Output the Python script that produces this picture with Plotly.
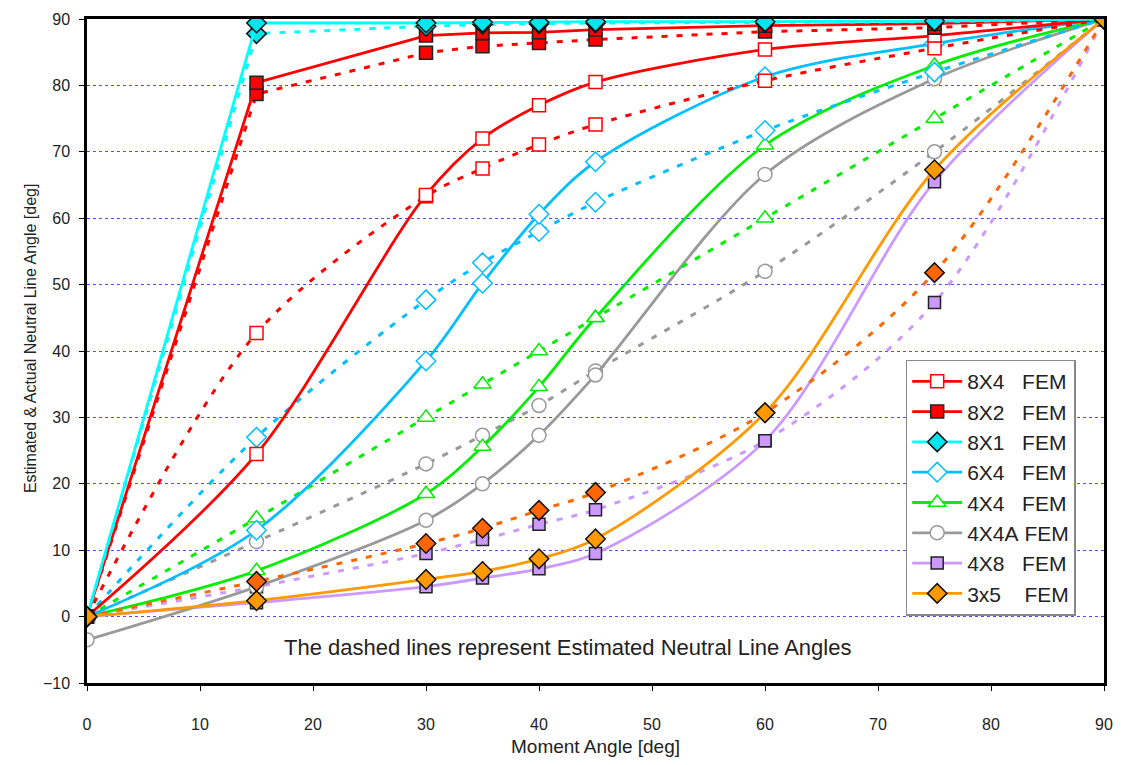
import plotly.graph_objects as go

x = [0, 15, 30, 35, 40, 45, 60, 75, 90]

# FEM (actual) values - solid lines
fem_8x4 = [0, 24.5, 63.5, 72.0, 77.0, 80.5, 85.4, 87.5, 90]
fem_8x2 = [0, 80.4, 87.5, 87.9, 88.0, 88.4, 89.0, 89.3, 90]
fem_8x1 = [0, 89.4, 89.4, 89.5, 89.5, 89.6, 89.6, 89.7, 90]
fem_6x4 = [0, 13.0, 38.5, 50.2, 60.6, 68.5, 81.3, 86.3, 90]
fem_4x4 = [0, 6.9, 18.5, 25.6, 34.6, 45.0, 71.0, 83.0, 90]
fem_4x4a = [-3.5, 4.5, 14.5, 20.0, 27.3, 36.4, 66.6, 81.0, 90]
fem_4x8 = [0, 2.1, 4.5, 5.8, 7.2, 9.5, 26.5, 65.5, 90]
fem_3x5 = [0, 2.4, 5.6, 6.8, 8.7, 11.7, 30.7, 67.3, 90]

# Estimated values - dashed lines
est_8x4 = [0, 42.7, 63.3, 67.5, 71.1, 74.1, 80.7, 85.6, 90]
est_8x2 = [0, 78.7, 84.9, 85.9, 86.4, 86.9, 88.1, 88.7, 90]
est_8x1 = [0, 87.8, 88.9, 89.2, 89.3, 89.4, 89.5, 89.6, 90]
est_6x4 = [0, 27.0, 47.7, 53.3, 58.0, 62.4, 73.2, 82.0, 90]
est_4x4 = [0, 14.8, 30.0, 35.0, 40.0, 45.0, 60.0, 75.0, 90]
est_4x4a = [0, 11.3, 23.0, 27.3, 31.8, 37.0, 52.0, 70.0, 90]
est_4x8 = [0, 4.5, 9.5, 11.6, 13.9, 16.1, 26.5, 47.3, 90]
est_3x5 = [0, 5.3, 11.0, 13.3, 16.0, 18.7, 30.7, 51.8, 90]

nb = "\u00a0"
names = ["8X4" + nb * 3 + "FEM", "8X2" + nb * 3 + "FEM", "8X1" + nb * 3 + "FEM",
         "6X4" + nb * 3 + "FEM", "4X4" + nb * 3 + "FEM", "4X4A" + nb + "FEM",
         "4X8" + nb * 3 + "FEM", "3x5" + nb * 4 + "FEM"]

series = [
    # name, fem, est, line color, est color, symbol, fill, fill_est, outline, size, shape, rank
    (names[6], fem_4x8, est_4x8, "#cc99ff", "#cc99ff", "square", "#cc99ff", "#cc99ff", "#222222", 12, "spline", 7),
    (names[5], fem_4x4a, est_4x4a, "#999999", "#999999", "circle", "white", "white", "#999999", 14, "spline", 6),
    (names[4], fem_4x4, est_4x4, "#00ee00", "#00ee00", "triangle-up", "white", "white", "#00ee00", 15, "spline", 5),
    (names[3], fem_6x4, est_6x4, "#00bfff", "#00bfff", "diamond", "white", "white", "#00bfff", 15, "spline", 4),
    (names[0], fem_8x4, est_8x4, "#ff0000", "#ff0000", "square", "white", "white", "#ff0000", 13, "spline", 1),
    (names[1], fem_8x2, est_8x2, "#ff0000", "#ff0000", "square", "#ff0000", "#ff0000", "#222222", 13, "linear", 2),
    (names[2], fem_8x1, est_8x1, "#00ffff", "#00ffff", "diamond", "#00e5ee", "#00e5ee", "#111111", 15, "linear", 3),
    (names[7], fem_3x5, est_3x5, "#ff9900", "#ff6600", "diamond", "#ff9900", "#ff6600", "#111111", 15, "spline", 8),
]

fig = go.Figure()

for name, fem, est, col, ecol, sym, fill, efill, outline, size, shape, rank in series:
    fig.add_trace(go.Scatter(
        x=x, y=est, mode="lines+markers", showlegend=False, hoverinfo="skip",
        line=dict(color=ecol, width=3, dash="6px,9px", shape=shape, smoothing=0.9),
        marker=dict(symbol=sym, size=size, color=efill, line=dict(color=outline, width=1.5)),
    ))
    fig.add_trace(go.Scatter(
        x=x, y=fem, mode="lines+markers", name=name, legendrank=rank,
        line=dict(color=col, width=2.8, shape=shape, smoothing=0.9),
        marker=dict(symbol=sym, size=size, color=fill, line=dict(color=outline, width=1.5)),
    ))

fig.add_annotation(
    x=42.5, y=-4.7, xref="x", yref="y", showarrow=False,
    text="The dashed lines represent Estimated Neutral Line Angles",
    font=dict(family="Liberation Sans, Arial, sans-serif", size=22, color="#222222"),
)

fig.add_annotation(
    x=-0.066, y=0.52, xref="paper", yref="paper", showarrow=False, textangle=-90,
    text="Estimated &amp; Actual Neutral Line Angle [deg]",
    font=dict(family="Liberation Sans, Arial, sans-serif", size=16, color="#222222"),
)

tick_font = dict(family="Liberation Sans, Arial, sans-serif", size=16, color="#222222")
title_font = dict(family="Liberation Sans, Arial, sans-serif", size=19, color="#222222")

fig.update_layout(
    width=1121, height=765,
    margin=dict(l=87, r=17, t=19, b=82, autoexpand=False),
    paper_bgcolor="white", plot_bgcolor="white",
    font=tick_font,
    legend=dict(
        x=0.805, y=0.487, xanchor="left", yanchor="top",
        bgcolor="white", bordercolor="#888888", borderwidth=1.5,
        font=dict(family="Liberation Sans, Arial, sans-serif", size=21, color="#222222"),
        itemsizing="trace", tracegroupgap=0, itemwidth=50,
    ),
    xaxis=dict(
        range=[0, 90], tickmode="linear", tick0=0, dtick=10,
        showgrid=False, zeroline=False,
        showline=True, linecolor="black", linewidth=2.5, mirror=True,
        ticks="outside", ticklen=5, tickcolor="black", ticklabelstandoff=20,
        tickfont=tick_font,
        title=dict(text="Moment Angle [deg]", font=title_font, standoff=8),
    ),
    yaxis=dict(
        range=[-10, 90], tickmode="linear", tick0=-10, dtick=10,
        showgrid=True, gridcolor="#4d4dff", griddash="dot", gridwidth=1,
        zeroline=False,
        showline=True, linecolor="black", linewidth=2.5, mirror=True,
        ticks="outside", ticklen=5, tickcolor="black", ticklabelstandoff=6,
        tickfont=tick_font,
    ),
)

fig.write_html("out.html")
